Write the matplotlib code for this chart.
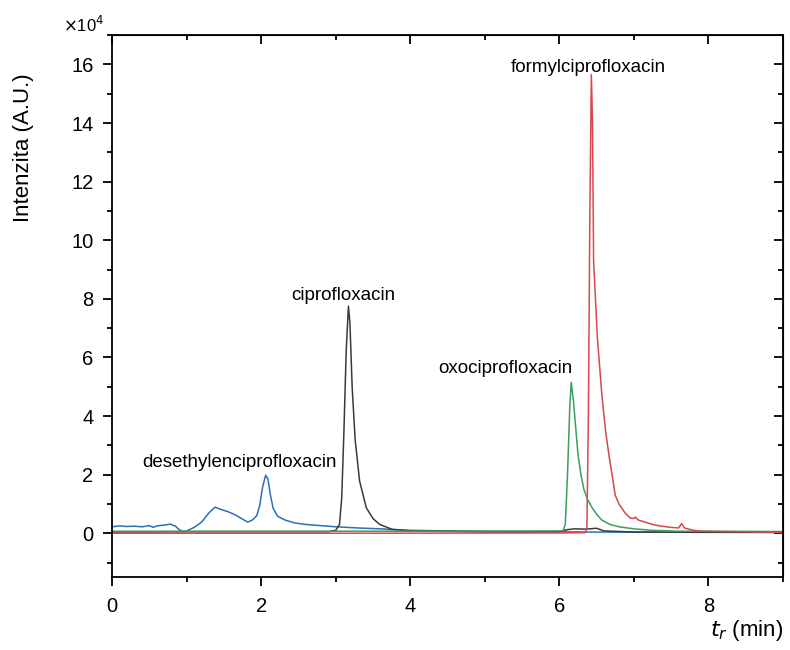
import matplotlib
matplotlib.use("Agg")
import matplotlib.pyplot as plt
from matplotlib.ticker import MultipleLocator

plt.rcParams["font.family"] = ["Liberation Sans", "DejaVu Sans"]

# intensities in units of 1e4 A.U., retention time in min
t_desethylen = [0.0, 0.1, 0.2, 0.3, 0.4, 0.5, 0.55, 0.6, 0.7, 0.78, 0.85, 0.9,
                0.95, 1.0, 1.1, 1.2, 1.3, 1.38, 1.45, 1.55, 1.65, 1.75, 1.82,
                1.88, 1.94, 1.98, 2.02, 2.06, 2.09, 2.12, 2.16, 2.22, 2.32,
                2.45, 2.6, 2.8, 3.0, 3.3, 3.6, 4.0, 4.5, 5.0, 5.5, 6.0, 6.5,
                7.0, 8.0, 9.0]
i_desethylen = [0.22, 0.25, 0.23, 0.24, 0.22, 0.26, 0.20, 0.25, 0.28, 0.31,
                0.24, 0.12, 0.06, 0.08, 0.20, 0.38, 0.70, 0.89, 0.82, 0.74,
                0.63, 0.48, 0.38, 0.45, 0.60, 0.95, 1.60, 1.98, 1.85, 1.35,
                0.85, 0.58, 0.45, 0.35, 0.30, 0.26, 0.22, 0.18, 0.15, 0.10,
                0.08, 0.06, 0.05, 0.05, 0.04, 0.04, 0.03, 0.03]

t_cipro = [0.0, 1.0, 2.0, 2.9, 3.0, 3.05, 3.08, 3.11, 3.14, 3.17, 3.19, 3.22,
           3.26, 3.32, 3.41, 3.5, 3.59, 3.76, 4.0, 5.0, 6.0, 6.1, 6.2, 6.35,
           6.5, 6.6, 7.0, 9.0]
i_cipro = [0.04, 0.05, 0.05, 0.05, 0.10, 0.30, 1.20, 3.50, 6.20, 7.75, 7.20,
           5.00, 3.20, 1.78, 0.87, 0.50, 0.30, 0.13, 0.08, 0.05, 0.05, 0.12,
           0.15, 0.14, 0.17, 0.08, 0.04, 0.03]

t_oxo = [0.0, 2.0, 4.0, 6.05, 6.08, 6.11, 6.14, 6.16, 6.19, 6.22, 6.25, 6.29,
         6.33, 6.38, 6.44, 6.5, 6.57, 6.68, 6.8, 7.0, 7.24, 7.6, 9.0]
i_oxo = [0.07, 0.07, 0.07, 0.08, 0.30, 2.00, 4.30, 5.15, 4.50, 3.60, 2.70,
         2.00, 1.50, 1.15, 0.87, 0.65, 0.45, 0.30, 0.22, 0.15, 0.10, 0.07, 0.06]

t_formyl = [0.0, 3.0, 6.0, 6.35, 6.37, 6.39, 6.41, 6.43, 6.445, 6.46, 6.51,
            6.57, 6.62, 6.67, 6.72, 6.75, 6.8, 6.88, 6.95, 7.0, 7.02, 7.06,
            7.15, 7.25, 7.35, 7.5, 7.6, 7.64, 7.68, 7.8, 7.9, 9.0]
i_formyl = [0.0, 0.0, 0.01, 0.02, 0.20, 4.00, 11.0, 15.65, 14.0, 9.30, 6.70,
            4.75, 3.50, 2.60, 1.80, 1.30, 1.00, 0.70, 0.52, 0.50, 0.55, 0.45,
            0.38, 0.30, 0.25, 0.20, 0.18, 0.33, 0.18, 0.10, 0.07, 0.03]

labels = ["desethylenciprofloxacin", "ciprofloxacin", "oxociprofloxacin",
          "formylciprofloxacin"]


def set_locators(axis_obj):
    """Major ticks every 2, minor every 1."""
    axis_obj.set_major_locator(MultipleLocator(2))
    axis_obj.set_minor_locator(MultipleLocator(1))


fig = plt.figure(figsize=(7.9, 6.5), dpi=100)
ax = fig.add_axes([0.142, 0.112, 0.849, 0.834])

ax.plot(t_desethylen, i_desethylen, color="#2c6fb3", lw=1.1)
ax.plot(t_cipro, i_cipro, color="#3a3a3a", lw=1.1)
ax.plot(t_oxo, i_oxo, color="#3b9e5f", lw=1.1)
ax.plot(t_formyl, i_formyl, color="#d8474c", lw=1.1)

ax.text(0.41, 2.43, labels[0], fontsize=13.5, va="center", ha="left")
ax.text(3.10, 8.12, labels[1], fontsize=13.5, va="center", ha="center")
ax.text(5.27, 5.62, labels[2], fontsize=13.5, va="center", ha="center")
ax.text(6.39, 15.9, labels[3], fontsize=13.5, va="center", ha="center")

ax.set_xlim(0, 9)
ax.set_ylim(-1.5, 17)
set_locators(ax.xaxis)
set_locators(ax.yaxis)

ax.tick_params(which="both", direction="out", top=False, right=False,
               labelsize=14.5, width=1.3)
ax.tick_params(which="major", length=6.5)
ax.tick_params(which="minor", length=3.5)
ax.tick_params(axis="x", pad=8)
ax.tick_params(axis="y", pad=7)
for spine in ax.spines.values():
    spine.set_linewidth(1.3)

# inward ticks on top and right
tw = ax.secondary_xaxis("top")
set_locators(tw.xaxis)
tw.tick_params(which="both", direction="in", labeltop=False, width=1.3)
tw.tick_params(which="major", length=6.5)
tw.tick_params(which="minor", length=3.5)
rw = ax.secondary_yaxis("right")
set_locators(rw.yaxis)
rw.tick_params(which="both", direction="in", labelright=False, width=1.3)
rw.tick_params(which="major", length=6.5)
rw.tick_params(which="minor", length=3.5)

fig.text(0.030, 1 - 222 / 650, "Intenzita (A.U.)", rotation=90, fontsize=16,
         ha="center", va="bottom")
ax.text(1.0, -0.075, "$t_r$ (min)", transform=ax.transAxes, fontsize=16,
        ha="right", va="top")
ax.text(-0.012, 1.0, r"$\times$10$^4$", transform=ax.transAxes, fontsize=12,
        ha="right", va="bottom")

fig.savefig("out.png", dpi=100)
